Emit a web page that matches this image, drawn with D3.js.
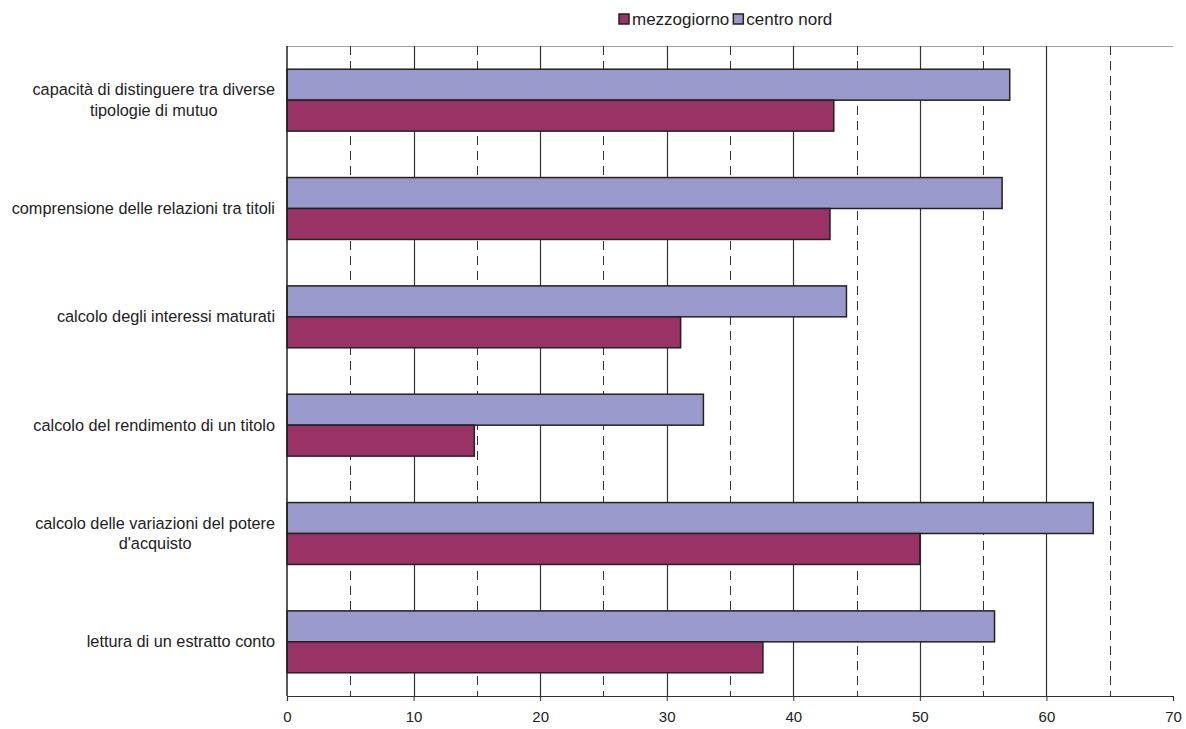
<!DOCTYPE html>
<html><head><meta charset="utf-8">
<script src="https://cdn.jsdelivr.net/npm/d3@7/dist/d3.min.js"></script>
<style>body{margin:0;background:#fff}svg{display:block;font-family:"Liberation Sans",Arial,sans-serif}</style>
</head><body><svg id="c" width="1186" height="729"></svg>
<script>
const categories = [
  ["capacità di distinguere tra diverse","tipologie di mutuo"],
  ["comprensione delle relazioni tra titoli"],
  ["calcolo degli interessi maturati"],
  ["calcolo del rendimento di un titolo"],
  ["calcolo delle variazioni del potere","d'acquisto"],
  ["lettura di un estratto conto"]
];
const seriesNames = ["mezzogiorno","centro nord"];
const mezzogiorno = [43.2, 42.9, 31.1, 14.8, 50.0, 37.6];
const centroNord  = [57.1, 56.5, 44.2, 32.9, 63.7, 55.9];
const xTicks = [0,10,20,30,40,50,60,70];
const xMinor = [5,15,25,35,45,55,65];
const colors = {"mezzogiorno":"#993366","centro nord":"#9999CC"};

const svg = d3.select("#c");
const L=287, R=1173, T=46, B=696;
const x = d3.scaleLinear().domain([0,70]).range([L,R]);
const step = (B-T)/categories.length;
const barH = step/3.5;

// top border
svg.append("line").attr("x1",L).attr("x2",R).attr("y1",T+0.5).attr("y2",T+0.5)
  .attr("stroke","#a0a0a0").attr("stroke-width",1.2);

// gridlines
svg.selectAll(".gmin").data(xMinor).join("line")
  .attr("x1",d=>Math.round(x(d))+0.5).attr("x2",d=>Math.round(x(d))+0.5)
  .attr("y1",T).attr("y2",B).attr("stroke","#333").attr("stroke-dasharray","9,6");
svg.selectAll(".gmaj").data(xTicks.slice(1,-1)).join("line")
  .attr("x1",d=>Math.round(x(d))+0.5).attr("x2",d=>Math.round(x(d))+0.5)
  .attr("y1",T).attr("y2",B).attr("stroke","#333").attr("stroke-width",1.2);

// bars
const g = svg.append("g");
categories.forEach((c,i)=>{
  const top = T + i*step + (step-2*barH)/2;
  g.append("rect").attr("x",x(0)).attr("y",top).attr("width",x(centroNord[i])-x(0)).attr("height",barH)
    .attr("fill",colors["centro nord"]).attr("stroke","#222").attr("stroke-width",1.5);
  g.append("rect").attr("x",x(0)).attr("y",top+barH).attr("width",x(mezzogiorno[i])-x(0)).attr("height",barH)
    .attr("fill",colors["mezzogiorno"]).attr("stroke","#222").attr("stroke-width",1.5);
});

// axes
const xa = svg.append("g").attr("transform",`translate(0,${B})`)
  .call(d3.axisBottom(x).tickValues(xTicks).tickSize(5).tickPadding(10).tickFormat(d3.format("d")));
xa.select(".domain").attr("stroke","#333").attr("stroke-width",1.2);
xa.selectAll(".tick line").attr("stroke","#333");
xa.selectAll("text").attr("font-size",15).attr("fill","#222").attr("font-family","Liberation Sans, Arial, sans-serif");
svg.append("line").attr("x1",L).attr("x2",L).attr("y1",T).attr("y2",B).attr("stroke","#222").attr("stroke-width",1.5);

// category labels: right-aligned block, lines centered
const labRight = 275;
categories.forEach((lines,i)=>{
  const cy = T + i*step + step/2;
  const t = svg.append("text").attr("font-size",16.3).attr("fill","#222").attr("text-anchor","middle");
  const lh = 20.5;
  lines.forEach((ln,j)=>{
    t.append("tspan").attr("x",0).attr("y", cy + (j-(lines.length-1)/2)*lh + 5.5).text(ln);
  });
  const w = d3.max(t.selectAll("tspan").nodes(), n=>n.getComputedTextLength());
  t.selectAll("tspan").attr("x", labRight - w/2);
});

// legend
let lx = 619;
const ly = 19;
seriesNames.forEach(s=>{
  svg.append("rect").attr("x",lx).attr("y",ly-5).attr("width",10).attr("height",10)
    .attr("fill",colors[s]).attr("stroke","#222").attr("stroke-width",1.5);
  const t = svg.append("text").attr("x",lx+13).attr("y",ly+6).attr("font-size",17).attr("fill","#222").text(s);
  lx += 13 + t.node().getComputedTextLength() + 4;
});
</script></body></html>
